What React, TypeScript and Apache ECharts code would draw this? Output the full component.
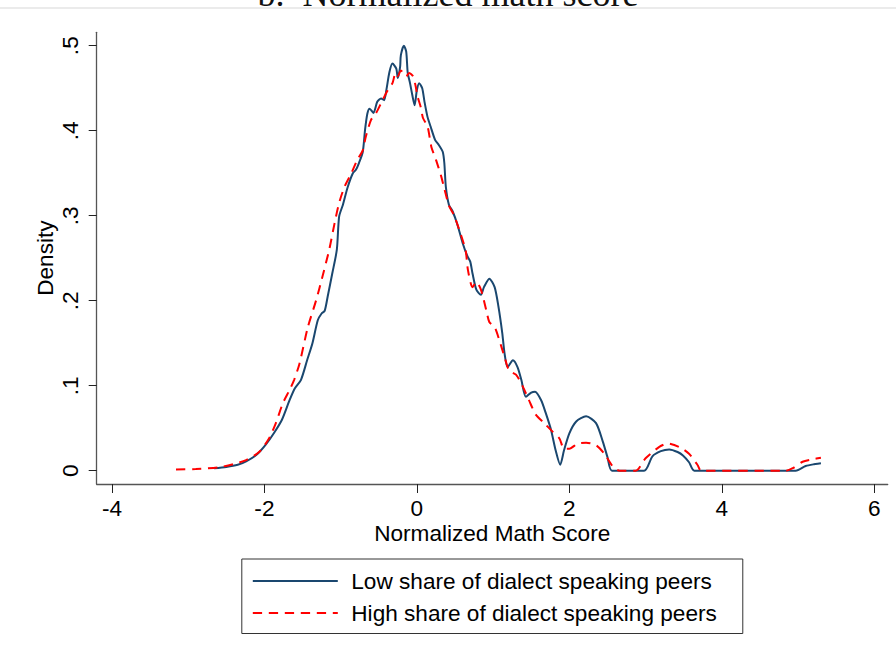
import React, { useEffect, useRef } from "react";
import * as echarts from "echarts";

// Normalized math score (x) and kernel density (y) for each group
const lowScore = [
  -2.66, -2.5, -2.35, -2.24, -2.1, -1.98, -1.87, -1.77, -1.67, -1.6, -1.52, -1.44, -1.37, -1.3, -1.25,
  -1.21, -1.17, -1.11, -1.05, -1.02, -0.97, -0.91, -0.84, -0.8, -0.76, -0.71, -0.68, -0.65, -0.62, -0.57,
  -0.52, -0.47, -0.43, -0.4, -0.36, -0.32, -0.27, -0.25, -0.22, -0.21, -0.17, -0.14, -0.12, -0.09, -0.06,
  -0.03, 0.0, 0.03, 0.07, 0.1, 0.14, 0.18, 0.24, 0.29, 0.34, 0.36, 0.38, 0.42, 0.47, 0.53, 0.6, 0.66,
  0.7, 0.73, 0.78, 0.84, 0.88, 0.95, 1.02, 1.07, 1.12, 1.15, 1.19, 1.26, 1.32, 1.37, 1.43, 1.5, 1.55,
  1.63, 1.69, 1.76, 1.82, 1.88, 1.93, 2.0, 2.09, 2.22, 2.35, 2.44, 2.5, 2.56, 2.98, 3.09, 3.2, 3.31,
  3.42, 3.49, 3.57, 3.64, 4.97, 5.1, 5.2, 5.3,
];
const lowDensity = [
  0.003, 0.0045, 0.007, 0.011, 0.019, 0.031, 0.045, 0.06, 0.083, 0.097, 0.107, 0.13, 0.15, 0.177, 0.185,
  0.188, 0.205, 0.232, 0.26, 0.299, 0.313, 0.333, 0.35, 0.354, 0.362, 0.375, 0.401, 0.42, 0.426, 0.421,
  0.434, 0.438, 0.436, 0.448, 0.469, 0.479, 0.473, 0.462, 0.475, 0.489, 0.5, 0.493, 0.468, 0.456, 0.442,
  0.43, 0.448, 0.456, 0.45, 0.434, 0.416, 0.405, 0.389, 0.383, 0.375, 0.362, 0.334, 0.313, 0.305, 0.29,
  0.268, 0.253, 0.246, 0.232, 0.213, 0.207, 0.216, 0.226, 0.216, 0.193, 0.162, 0.138, 0.122, 0.13, 0.122,
  0.107, 0.087, 0.092, 0.093, 0.083, 0.068, 0.048, 0.024, 0.007, 0.024, 0.044, 0.058, 0.064, 0.056, 0.034,
  0.016, 0.0, 0.0, 0.017, 0.023, 0.025, 0.022, 0.018, 0.01, 0.0, 0.0, 0.0055, 0.0075, 0.0087,
];
const highScore = [
  -3.16, -2.9, -2.6, -2.4, -2.24, -2.07, -1.94, -1.85, -1.76, -1.67, -1.61, -1.54, -1.43, -1.32, -1.24,
  -1.15, -1.08, -1.02, -0.95, -0.86, -0.78, -0.71, -0.67, -0.6, -0.54, -0.45, -0.38, -0.32, -0.28, -0.25,
  -0.21, -0.14, -0.1, -0.05, -0.02, 0.01, 0.05, 0.08, 0.14, 0.19, 0.25, 0.32, 0.36, 0.42, 0.49, 0.58,
  0.64, 0.67, 0.73, 0.78, 0.84, 0.91, 0.95, 1.02, 1.08, 1.15, 1.21, 1.3, 1.39, 1.47, 1.56, 1.67, 1.78,
  1.87, 1.93, 2.0, 2.11, 2.22, 2.35, 2.46, 2.57, 2.66, 2.87, 3.0, 3.18, 3.29, 3.44, 3.57, 3.68, 3.73,
  4.84, 4.93, 5.06, 5.19, 5.3,
];
const highDensity = [
  0.0016, 0.002, 0.004, 0.008, 0.0126, 0.022, 0.038, 0.056, 0.079, 0.095, 0.107, 0.126, 0.169, 0.201, 0.228,
  0.26, 0.291, 0.315, 0.334, 0.35, 0.366, 0.377, 0.393, 0.413, 0.42, 0.436, 0.448, 0.456, 0.468, 0.464,
  0.471, 0.464, 0.468, 0.464, 0.454, 0.44, 0.428, 0.415, 0.405, 0.381, 0.366, 0.346, 0.332, 0.312, 0.3, 0.277,
  0.259, 0.236, 0.216, 0.222, 0.213, 0.189, 0.175, 0.169, 0.154, 0.134, 0.118, 0.113, 0.099, 0.083, 0.066, 0.056, 0.046,
  0.038, 0.026, 0.026, 0.032, 0.033, 0.03, 0.02, 0.005, 0.0, 0.0, 0.0146, 0.028, 0.032, 0.028, 0.02, 0.007, 0.0,
  0.0, 0.003, 0.0106, 0.0134, 0.0153,
];
const xTicks = [-4, -2, 0, 2, 4, 6];
const yTicks = [0, 0.1, 0.2, 0.3, 0.4, 0.5];
const seriesNames = ["Low share of dialect speaking peers", "High share of dialect speaking peers"];
const titleText = "b.  Normalized math score";

const FONT = 'Arial, "Liberation Sans", sans-serif';

export default function App() {
  const ref = useRef<HTMLDivElement>(null);
  useEffect(() => {
    if (!ref.current) return;
    const chart = echarts.init(ref.current, null, { renderer: "svg" });
    const zip = (xs: number[], ys: number[]) => xs.map((x, i) => [x, ys[i]]);
    chart.setOption({
      animation: false,
      backgroundColor: "#ffffff",
      textStyle: { fontFamily: FONT },
      graphic: [
        {
          type: "text",
          left: "center",
          y: -24,
          style: {
            text: titleText,
            font: '36px "Liberation Serif", "DejaVu Serif", serif',
            fill: "#111",
          },
        },
        {
          type: "line",
          shape: { x1: 0, y1: 8, x2: 896, y2: 8 },
          style: { stroke: "#e4e4e4", lineWidth: 1.5 },
          z: 10,
        },
      ],
      grid: { left: 96.7, right: 8.3, top: 32.3, bottom: 170, containLabel: false },
      legend: {
        orient: "vertical",
        left: 241.8,
        top: 559,
        data: seriesNames,
        itemWidth: 85,
        itemHeight: 14,
        itemGap: 8,
        padding: [10, 26, 8.5, 10],
        borderColor: "#333",
        borderWidth: 1,
        selectedMode: false,
        itemStyle: { opacity: 0 },
        textStyle: { fontFamily: FONT, fontSize: 22.6, color: "#000", lineHeight: 24, padding: [0, 0, 0, 8.5] },
      },
      xAxis: {
        type: "value",
        min: -4.2,
        max: 6.176,
        name: "Normalized Math Score",
        nameLocation: "middle",
        nameGap: 39,
        nameMoveOverlap: false,
        nameTextStyle: { fontFamily: FONT, fontSize: 22.6, color: "#000", lineHeight: 20 },
        splitLine: { show: false },
        axisLine: { show: true, onZero: false, lineStyle: { color: "#555", width: 1.3 } },
        axisTick: { show: true, length: 9, customValues: xTicks, lineStyle: { color: "#222", width: 1 } },
        axisLabel: {
          customValues: xTicks,
          margin: 15,
          lineHeight: 18,
          fontFamily: FONT,
          fontSize: 22.6,
          color: "#000",
          formatter: (v: number) => String(v),
        },
      },
      yAxis: {
        type: "value",
        min: -0.0156,
        max: 0.5158,
        name: "Density",
        nameLocation: "middle",
        nameGap: 40,
        nameMoveOverlap: false,
        nameRotate: 90,
        nameTextStyle: { fontFamily: FONT, fontSize: 22.6, color: "#000" },
        splitLine: { show: false },
        axisLine: { show: true, onZero: false, lineStyle: { color: "#555", width: 1.3 } },
        axisTick: { show: true, length: 8, customValues: yTicks, lineStyle: { color: "#222", width: 1 } },
        axisLabel: {
          customValues: yTicks,
          rotate: 90,
          margin: 15,
          fontFamily: FONT,
          fontSize: 22.6,
          color: "#000",
          formatter: (v: number) => (Math.abs(v) < 1e-9 ? "0" : v.toFixed(1).replace(/^0/, "")),
        },
      },
      series: [
        {
          name: seriesNames[0],
          type: "line",
          data: zip(lowScore, lowDensity),
          symbol: "none",
          smooth: 0.25,
          lineStyle: { color: "#1a476f", width: 2 },
          itemStyle: { color: "#1a476f" },
          z: 2,
        },
        {
          name: seriesNames[1],
          type: "line",
          data: zip(highScore, highDensity),
          symbol: "none",
          smooth: 0.25,
          lineStyle: { color: "#ff0000", width: 2, type: [9.3, 6.7] },
          itemStyle: { color: "#ff0000" },
          z: 3,
        },
      ],
    });
    return () => chart.dispose();
  }, []);
  return (
    <div
      ref={ref}
      style={{ position: "absolute", left: 0, top: 0, width: 896, height: 654, background: "#fff" }}
    />
  );
}
